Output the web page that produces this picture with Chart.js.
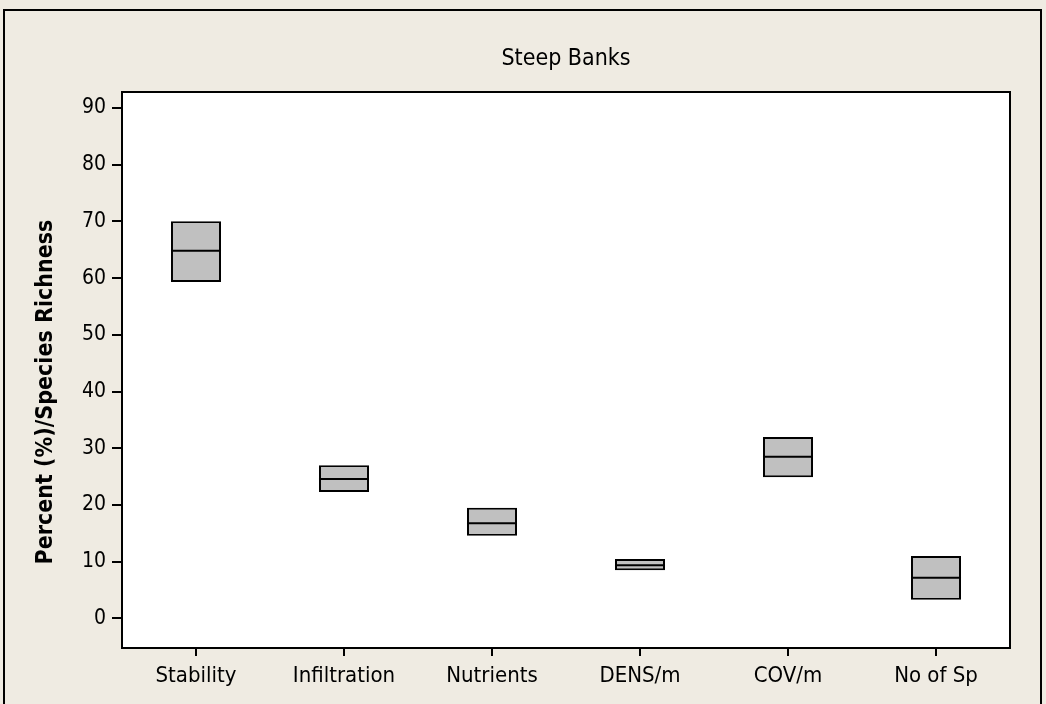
<!DOCTYPE html>
<html>
<head>
<meta charset="utf-8">
<script src="https://cdn.jsdelivr.net/npm/chart.js@4"></script>
<style>
  html, body { margin: 0; padding: 0; background: #efebe2; }
  #wrap { width: 1046px; height: 704px; }
</style>
</head>
<body>
<div id="wrap"><canvas id="myChart" width="1046" height="704"></canvas></div>
<script>
// box plot values
const categories = ['Stability', 'Infiltration', 'Nutrients', 'DENS/m', 'COV/m', 'No of Sp'];
const q1 = [59.3, 22.3, 14.6, 8.5, 24.9, 3.3];
const median = [64.8, 24.6, 16.8, 9.4, 28.5, 7.2];
const q3 = [70.0, 27.0, 19.5, 10.5, 32.0, 11.0];
const yTicks = [0, 10, 20, 30, 40, 50, 60, 70, 80, 90];

const FONT = '"DejaVu Sans Condensed", "DejaVu Sans", sans-serif';

document.addEventListener('DOMContentLoaded', function () {
    const ctx = document.getElementById('myChart').getContext('2d');

    const boxes = categories.map((c, i) => [q1[i], q3[i]]);

    // frame, plot border, medians, title and y axis label
    const boxPlotExtras = {
        id: 'boxPlotExtras',
        beforeDraw(chart) {
            const c = chart.ctx;
            const a = chart.chartArea;
            c.save();
            c.fillStyle = '#efebe2';
            c.fillRect(0, 0, chart.width, chart.height);
            c.strokeStyle = '#000';
            c.lineWidth = 2;
            c.strokeRect(4, 10, 1037, 720);
            c.fillStyle = '#ffffff';
            c.fillRect(a.left, a.top, a.right - a.left, a.bottom - a.top);
            c.restore();
        },
        afterDatasetsDraw(chart) {
            const c = chart.ctx;
            const a = chart.chartArea;
            const yScale = chart.scales.y;
            const meta = chart.getDatasetMeta(0);
            c.save();
            c.strokeStyle = '#000';
            c.lineWidth = 2;
            meta.data.forEach((bar, i) => {
                const y = yScale.getPixelForValue(median[i]);
                c.beginPath();
                c.moveTo(bar.x - bar.width / 2, y);
                c.lineTo(bar.x + bar.width / 2, y);
                c.stroke();
            });
            c.strokeRect(a.left, a.top, a.right - a.left, a.bottom - a.top);
            c.fillStyle = '#000';
            c.font = '23px ' + FONT;
            c.textAlign = 'center';
            c.textBaseline = 'middle';
            c.fillText('Steep Banks', (a.left + a.right) / 2, 59);

            c.translate(46, 392);
            c.rotate(-Math.PI / 2);
            c.font = 'bold 23px ' + FONT;
            c.fillText('Percent (%)/Species Richness', 0, 0);
            c.restore();
        }
    };

    const myChart = new Chart(ctx, {
        type: 'bar',
        data: {
            labels: categories,
            datasets: [{
                data: boxes,
                backgroundColor: '#c0c0c0',
                borderColor: '#000',
                borderWidth: 2,
                borderSkipped: false,
                barPercentage: 0.338,
                categoryPercentage: 1.0
            }]
        },
        options: {
            responsive: false,
            animation: false,
            layout: { padding: { top: 92, right: 36, bottom: 0, left: 0 } },
            plugins: {
                legend: { display: false },
                tooltip: { enabled: false }
            },
            scales: {
                x: {
                    grid: { display: true, offset: false, drawOnChartArea: false, drawTicks: true, tickLength: 8, color: '#000', lineWidth: 2 },
                    border: { display: true, color: '#000', width: 2 },
                    ticks: { color: '#000', font: { family: FONT, size: 22 }, padding: 7, maxRotation: 0 },
                    afterFit: s => { s.height = 56; }
                },
                y: {
                    min: -5.2,
                    max: 92.8,
                    afterBuildTicks: s => { s.ticks = yTicks.map(v => ({ value: v })); },
                    grid: { display: true, drawOnChartArea: false, drawTicks: true, tickLength: 10, color: '#000', lineWidth: 2 },
                    border: { display: true, color: '#000', width: 2 },
                    ticks: { color: '#000', font: { family: FONT, size: 21 }, padding: 6 },
                    afterFit: s => { s.width = 122; }
                }
            }
        },
        plugins: [boxPlotExtras]
    });
});
</script>
</body>
</html>
